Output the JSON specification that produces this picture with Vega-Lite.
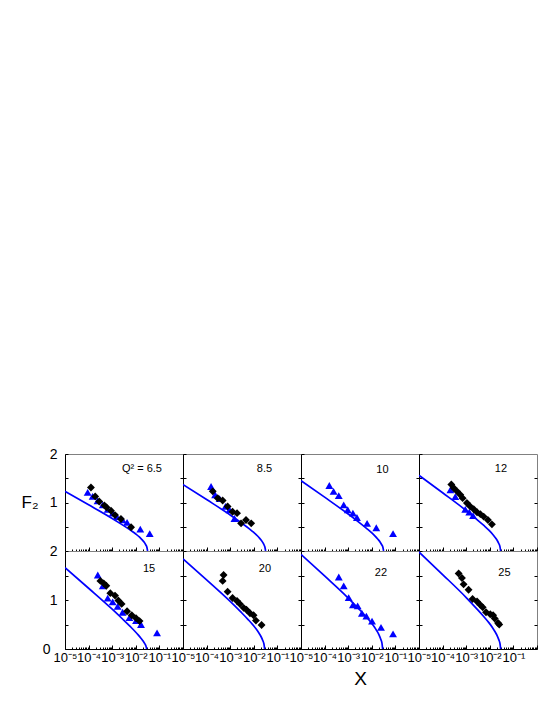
{
  "$schema": "https://vega.github.io/schema/vega-lite/v6.json",
  "padding": {"left": 20, "top": 446, "right": 0, "bottom": 10},
  "background": "white",
  "datasets": {
    "curve": [
      {"p":1,"x":0.00001,"F":1.23},{"p":1,"x":0.0001,"F":0.954},{"p":1,"x":0.001,"F":0.671},{"p":1,"x":0.003162,"F":0.518},{"p":1,"x":0.00631,"F":0.42},{"p":1,"x":0.01,"F":0.35},{"p":1,"x":0.01413,"F":0.289},{"p":1,"x":0.01778,"F":0.24},{"p":1,"x":0.02239,"F":0.184},{"p":1,"x":0.0263,"F":0.129},{"p":1,"x":0.02951,"F":0.076},{"p":1,"x":0.03162,"F":0},
      {"p":2,"x":0.00001,"F":1.37},{"p":2,"x":0.0001,"F":1.06},{"p":2,"x":0.001,"F":0.743},{"p":2,"x":0.003162,"F":0.571},{"p":2,"x":0.00631,"F":0.462},{"p":2,"x":0.01,"F":0.383},{"p":2,"x":0.01413,"F":0.315},{"p":2,"x":0.01778,"F":0.261},{"p":2,"x":0.02239,"F":0.199},{"p":2,"x":0.0263,"F":0.14},{"p":2,"x":0.02951,"F":0.082},{"p":2,"x":0.03162,"F":0},
      {"p":3,"x":0.00001,"F":1.45},{"p":3,"x":0.0001,"F":1.11},{"p":3,"x":0.001,"F":0.762},{"p":3,"x":0.003162,"F":0.576},{"p":3,"x":0.00631,"F":0.458},{"p":3,"x":0.01,"F":0.374},{"p":3,"x":0.01413,"F":0.303},{"p":3,"x":0.01778,"F":0.248},{"p":3,"x":0.02239,"F":0.187},{"p":3,"x":0.0263,"F":0.129},{"p":3,"x":0.02951,"F":0.076},{"p":3,"x":0.03162,"F":0},
      {"p":4,"x":0.00001,"F":1.56},{"p":4,"x":0.0001,"F":1.2},{"p":4,"x":0.001,"F":0.832},{"p":4,"x":0.002884,"F":0.647},{"p":4,"x":0.005754,"F":0.521},{"p":4,"x":0.00912,"F":0.43},{"p":4,"x":0.01288,"F":0.352},{"p":4,"x":0.01622,"F":0.291},{"p":4,"x":0.02042,"F":0.221},{"p":4,"x":0.02399,"F":0.154},{"p":4,"x":0.02692,"F":0.091},{"p":4,"x":0.02884,"F":0},
      {"p":5,"x":0.00001,"F":1.66},{"p":5,"x":0.0001,"F":1.24},{"p":5,"x":0.001,"F":0.812},{"p":5,"x":0.002884,"F":0.602},{"p":5,"x":0.005754,"F":0.461},{"p":5,"x":0.00912,"F":0.363},{"p":5,"x":0.01288,"F":0.283},{"p":5,"x":0.01622,"F":0.225},{"p":5,"x":0.02042,"F":0.162},{"p":5,"x":0.02399,"F":0.108},{"p":5,"x":0.02692,"F":0.061},{"p":5,"x":0.02884,"F":0},
      {"p":6,"x":0.00001,"F":1.84},{"p":6,"x":0.0001,"F":1.41},{"p":6,"x":0.001,"F":0.97},{"p":6,"x":0.002884,"F":0.751},{"p":6,"x":0.005754,"F":0.601},{"p":6,"x":0.00912,"F":0.493},{"p":6,"x":0.01288,"F":0.402},{"p":6,"x":0.01622,"F":0.331},{"p":6,"x":0.02042,"F":0.25},{"p":6,"x":0.02399,"F":0.174},{"p":6,"x":0.02692,"F":0.102},{"p":6,"x":0.02884,"F":0},
      {"p":7,"x":0.00001,"F":1.93},{"p":7,"x":0.0001,"F":1.49},{"p":7,"x":0.001,"F":1.04},{"p":7,"x":0.002884,"F":0.814},{"p":7,"x":0.005754,"F":0.659},{"p":7,"x":0.00912,"F":0.546},{"p":7,"x":0.01288,"F":0.45},{"p":7,"x":0.01622,"F":0.373},{"p":7,"x":0.02042,"F":0.284},{"p":7,"x":0.02399,"F":0.199},{"p":7,"x":0.02692,"F":0.118},{"p":7,"x":0.02884,"F":0},
      {"p":8,"x":0.00001,"F":1.98},{"p":8,"x":0.0001,"F":1.52},{"p":8,"x":0.001,"F":1.05},{"p":8,"x":0.002884,"F":0.814},{"p":8,"x":0.005754,"F":0.653},{"p":8,"x":0.00912,"F":0.538},{"p":8,"x":0.01288,"F":0.439},{"p":8,"x":0.01622,"F":0.362},{"p":8,"x":0.02042,"F":0.274},{"p":8,"x":0.02399,"F":0.191},{"p":8,"x":0.02692,"F":0.113},{"p":8,"x":0.02884,"F":0}
    ],
    "pts": [
      {"p":1,"s":"tri","x":0.0000912,"F":1.21},{"p":1,"s":"tri","x":0.0001479,"F":1.125},{"p":1,"s":"tri","x":0.0002399,"F":1.035},{"p":1,"s":"tri","x":0.0003981,"F":0.95},{"p":1,"s":"tri","x":0.0006457,"F":0.86},{"p":1,"s":"tri","x":0.001047,"F":0.78},{"p":1,"s":"tri","x":0.001585,"F":0.71},{"p":1,"s":"tri","x":0.002754,"F":0.64},{"p":1,"s":"tri","x":0.004266,"F":0.59},{"p":1,"s":"tri","x":0.01549,"F":0.45},{"p":1,"s":"tri","x":0.0389,"F":0.36},
      {"p":1,"s":"dia","x":0.0001259,"F":1.31},{"p":1,"s":"dia","x":0.0001905,"F":1.125},{"p":1,"s":"dia","x":0.0002818,"F":1.02},{"p":1,"s":"dia","x":0.0004677,"F":0.94},{"p":1,"s":"dia","x":0.0005754,"F":0.9},{"p":1,"s":"dia","x":0.0008913,"F":0.83},{"p":1,"s":"dia","x":0.001318,"F":0.74},{"p":1,"s":"dia","x":0.002344,"F":0.66},{"p":1,"s":"dia","x":0.00631,"F":0.49},
      {"p":2,"s":"tri","x":0.0001549,"F":1.33},{"p":2,"s":"tri","x":0.0002291,"F":1.16},{"p":2,"s":"tri","x":0.0003548,"F":1.08},{"p":2,"s":"tri","x":0.000631,"F":0.92},{"p":2,"s":"tri","x":0.0009333,"F":0.85},{"p":2,"s":"tri","x":0.001514,"F":0.67},
      {"p":2,"s":"dia","x":0.000182,"F":1.23},{"p":2,"s":"dia","x":0.0002951,"F":1.09},{"p":2,"s":"dia","x":0.0004786,"F":1.04},{"p":2,"s":"dia","x":0.0007762,"F":0.92},{"p":2,"s":"dia","x":0.001259,"F":0.81},{"p":2,"s":"dia","x":0.00195,"F":0.78},{"p":2,"s":"dia","x":0.002884,"F":0.57},{"p":2,"s":"dia","x":0.004677,"F":0.64},{"p":2,"s":"dia","x":0.007762,"F":0.57},
      {"p":3,"s":"tri","x":0.0001585,"F":1.35},{"p":3,"s":"tri","x":0.0002399,"F":1.23},{"p":3,"s":"tri","x":0.0003981,"F":1.14},{"p":3,"s":"tri","x":0.0006457,"F":0.95},{"p":3,"s":"tri","x":0.000955,"F":0.85},{"p":3,"s":"tri","x":0.001585,"F":0.78},{"p":3,"s":"tri","x":0.002344,"F":0.69},{"p":3,"s":"tri","x":0.00631,"F":0.57},{"p":3,"s":"tri","x":0.01549,"F":0.48},{"p":3,"s":"tri","x":0.07943,"F":0.36},
      {"p":4,"s":"tri","x":0.0002138,"F":1.26},{"p":4,"s":"tri","x":0.0003467,"F":1.12},{"p":4,"s":"tri","x":0.000912,"F":0.86},{"p":4,"s":"tri","x":0.001349,"F":0.8},{"p":4,"s":"tri","x":0.00195,"F":0.73},
      {"p":4,"s":"dia","x":0.0002344,"F":1.37},{"p":4,"s":"dia","x":0.0002951,"F":1.3},{"p":4,"s":"dia","x":0.0004074,"F":1.23},{"p":4,"s":"dia","x":0.0005623,"F":1.16},{"p":4,"s":"dia","x":0.0007079,"F":1.09},{"p":4,"s":"dia","x":0.001072,"F":0.99},{"p":4,"s":"dia","x":0.001479,"F":0.92},{"p":4,"s":"dia","x":0.002089,"F":0.86},{"p":4,"s":"dia","x":0.002884,"F":0.8},{"p":4,"s":"dia","x":0.003981,"F":0.76},{"p":4,"s":"dia","x":0.005495,"F":0.71},{"p":4,"s":"dia","x":0.008318,"F":0.64},{"p":4,"s":"dia","x":0.0123,"F":0.55},
      {"p":5,"s":"tri","x":0.0002455,"F":1.51},{"p":5,"s":"tri","x":0.0003981,"F":1.29},{"p":5,"s":"tri","x":0.0006457,"F":1.04},{"p":5,"s":"tri","x":0.001047,"F":0.96},{"p":5,"s":"tri","x":0.001698,"F":0.87},{"p":5,"s":"tri","x":0.002754,"F":0.75},{"p":5,"s":"tri","x":0.00537,"F":0.64},{"p":5,"s":"tri","x":0.01023,"F":0.58},{"p":5,"s":"tri","x":0.0166,"F":0.5},{"p":5,"s":"tri","x":0.07943,"F":0.33},
      {"p":5,"s":"dia","x":0.0003162,"F":1.39},{"p":5,"s":"dia","x":0.0004365,"F":1.34},{"p":5,"s":"dia","x":0.0005623,"F":1.29},{"p":5,"s":"dia","x":0.0008318,"F":1.14},{"p":5,"s":"dia","x":0.001318,"F":1.09},{"p":5,"s":"dia","x":0.00182,"F":0.99},{"p":5,"s":"dia","x":0.002512,"F":0.92},{"p":5,"s":"dia","x":0.004266,"F":0.77},{"p":5,"s":"dia","x":0.006761,"F":0.69},{"p":5,"s":"dia","x":0.01023,"F":0.63},{"p":5,"s":"dia","x":0.01445,"F":0.57},
      {"p":6,"s":"dia","x":0.0005248,"F":1.51},{"p":6,"s":"dia","x":0.0004786,"F":1.39},{"p":6,"s":"dia","x":0.0007762,"F":1.17},{"p":6,"s":"dia","x":0.001259,"F":1.04},{"p":6,"s":"dia","x":0.00195,"F":0.98},{"p":6,"s":"dia","x":0.00257,"F":0.92},{"p":6,"s":"dia","x":0.003715,"F":0.84},{"p":6,"s":"dia","x":0.004898,"F":0.8},{"p":6,"s":"dia","x":0.006918,"F":0.73},{"p":6,"s":"dia","x":0.009772,"F":0.69},{"p":6,"s":"dia","x":0.0123,"F":0.58},{"p":6,"s":"dia","x":0.02138,"F":0.49},
      {"p":7,"s":"tri","x":0.0003981,"F":1.47},{"p":7,"s":"tri","x":0.0006457,"F":1.29},{"p":7,"s":"tri","x":0.001047,"F":1.05},{"p":7,"s":"tri","x":0.001585,"F":0.9},{"p":7,"s":"tri","x":0.002512,"F":0.88},{"p":7,"s":"tri","x":0.003802,"F":0.73},{"p":7,"s":"tri","x":0.005888,"F":0.67},{"p":7,"s":"tri","x":0.01023,"F":0.57},{"p":7,"s":"tri","x":0.02455,"F":0.44},{"p":7,"s":"tri","x":0.07943,"F":0.31},
      {"p":8,"s":"dia","x":0.0004786,"F":1.54},{"p":8,"s":"dia","x":0.0006607,"F":1.45},{"p":8,"s":"dia","x":0.0007762,"F":1.32},{"p":8,"s":"dia","x":0.001259,"F":1.21},{"p":8,"s":"dia","x":0.001862,"F":1.02},{"p":8,"s":"dia","x":0.002884,"F":0.97},{"p":8,"s":"dia","x":0.003981,"F":0.9},{"p":8,"s":"dia","x":0.005012,"F":0.85},{"p":8,"s":"dia","x":0.006918,"F":0.75},{"p":8,"s":"dia","x":0.01047,"F":0.71},{"p":8,"s":"dia","x":0.0138,"F":0.69},{"p":8,"s":"dia","x":0.01622,"F":0.62},{"p":8,"s":"dia","x":0.02239,"F":0.53},{"p":8,"s":"dia","x":0.02512,"F":0.5}
    ],
    "lab": [
      {"p":1,"x":0.0182,"F":1.69,"t":"Q² = 6.5"},
      {"p":2,"x":0.0282,"F":1.69,"t":"8.5"},
      {"p":3,"x":0.0282,"F":1.67,"t":"10"},
      {"p":4,"x":0.0295,"F":1.69,"t":"12"},
      {"p":5,"x":0.0363,"F":1.63,"t":"15"},
      {"p":6,"x":0.0295,"F":1.63,"t":"20"},
      {"p":7,"x":0.0245,"F":1.55,"t":"22"},
      {"p":8,"x":0.0417,"F":1.55,"t":"25"}
    ]
  },
  "columns": 4,
  "spacing": 0,
  "bounds": "flush",
  "concat": [
    {"width":118,"height":97,"resolve":{"axis":{"x":"independent","y":"independent"}},"layer":[
      {"data":{"name":"curve"},"transform":[{"filter":"datum.p==1"}],"mark":{"type":"line","color":"#0000ff","strokeWidth":1.7,"interpolate":"monotone","clip":true},
       "encoding":{"x":{"field":"x","type":"quantitative","scale":{"type":"log","domain":[0.00001,1],"nice":false},"axis":null},
                   "y":{"field":"F","type":"quantitative","scale":{"domain":[0,2],"nice":false,"zero":false},"axis":{"orient":"right","values":[0.5,1,1.5],"labels":false,"tickSize":-3,"domain":false,"title":null}}}},
      {"data":{"name":"pts"},"transform":[{"filter":"datum.p==1"}],"mark":{"type":"point","filled":true,"opacity":1,"size":62},
       "encoding":{"x":{"field":"x","type":"quantitative","scale":{"type":"log","domain":[0.00001,1],"nice":false},"axis":{"values":[0.00001,0.00002,0.00003,0.00004,0.00005,0.00006,0.00007,0.00008,0.00009,0.0001,0.0002,0.0003,0.0004,0.0005,0.0006,0.0007,0.0008,0.0009,0.001,0.002,0.003,0.004,0.005,0.006,0.007,0.008,0.009,0.01,0.02,0.03,0.04,0.05,0.06,0.07,0.08,0.09,0.1,0.2,0.3,0.4,0.5,0.6,0.7,0.8,0.9,1],"labels":false,"title":null,"tickSize":{"condition":{"test":"datum.value==0.00001||datum.value==0.0001||datum.value==0.001||datum.value==0.01||datum.value==0.1||datum.value==1","value":-4},"value":-2}}},
                   "y":{"field":"F","type":"quantitative","scale":{"domain":[0,2],"nice":false,"zero":false},"axis":{"values":[0,0.5,1,1.5,2],"tickSize":-3,"labelPadding":11,"labelFontSize":14,"labelExpr":"datum.value==1?'1':datum.value==2?'2':''","title":"F₂","titleAngle":0,"titleAlign":"left","titleBaseline":"middle","titleX":-44,"titleY":48,"titleFontSize":17,"titleFontWeight":"normal"}},
                   "shape":{"field":"s","type":"nominal","scale":{"domain":["tri","dia"],"range":["triangle-up","diamond"]},"legend":null},
                   "color":{"field":"s","type":"nominal","scale":{"domain":["tri","dia"],"range":["#0000ff","#000000"]},"legend":null}}},
      {"data":{"name":"lab"},"transform":[{"filter":"datum.p==1"}],"mark":{"type":"text","fontSize":11,"color":"#000"},
       "encoding":{"x":{"field":"x","type":"quantitative","scale":{"type":"log","domain":[0.00001,1],"nice":false},"axis":null},"y":{"field":"F","type":"quantitative","scale":{"domain":[0,2],"nice":false,"zero":false},"axis":null},"text":{"field":"t"}}}
    ]},
    {"width":118,"height":97,"resolve":{"axis":{"x":"independent","y":"independent"}},"layer":[
      {"data":{"name":"curve"},"transform":[{"filter":"datum.p==2"}],"mark":{"type":"line","color":"#0000ff","strokeWidth":1.7,"interpolate":"monotone","clip":true},
       "encoding":{"x":{"field":"x","type":"quantitative","scale":{"type":"log","domain":[0.00001,1],"nice":false},"axis":null},
                   "y":{"field":"F","type":"quantitative","scale":{"domain":[0,2],"nice":false,"zero":false},"axis":{"orient":"right","values":[0.5,1,1.5],"labels":false,"tickSize":-3,"domain":false,"title":null}}}},
      {"data":{"name":"pts"},"transform":[{"filter":"datum.p==2"}],"mark":{"type":"point","filled":true,"opacity":1,"size":62},
       "encoding":{"x":{"field":"x","type":"quantitative","scale":{"type":"log","domain":[0.00001,1],"nice":false},"axis":{"values":[0.00001,0.00002,0.00003,0.00004,0.00005,0.00006,0.00007,0.00008,0.00009,0.0001,0.0002,0.0003,0.0004,0.0005,0.0006,0.0007,0.0008,0.0009,0.001,0.002,0.003,0.004,0.005,0.006,0.007,0.008,0.009,0.01,0.02,0.03,0.04,0.05,0.06,0.07,0.08,0.09,0.1,0.2,0.3,0.4,0.5,0.6,0.7,0.8,0.9,1],"labels":false,"title":null,"tickSize":{"condition":{"test":"datum.value==0.00001||datum.value==0.0001||datum.value==0.001||datum.value==0.01||datum.value==0.1||datum.value==1","value":-4},"value":-2}}},
                   "y":{"field":"F","type":"quantitative","scale":{"domain":[0,2],"nice":false,"zero":false},"axis":{"values":[0,0.5,1,1.5,2],"tickSize":-3,"labels":false,"title":null}},
                   "shape":{"field":"s","type":"nominal","scale":{"domain":["tri","dia"],"range":["triangle-up","diamond"]},"legend":null},
                   "color":{"field":"s","type":"nominal","scale":{"domain":["tri","dia"],"range":["#0000ff","#000000"]},"legend":null}}},
      {"data":{"name":"lab"},"transform":[{"filter":"datum.p==2"}],"mark":{"type":"text","fontSize":11,"color":"#000"},
       "encoding":{"x":{"field":"x","type":"quantitative","scale":{"type":"log","domain":[0.00001,1],"nice":false},"axis":null},"y":{"field":"F","type":"quantitative","scale":{"domain":[0,2],"nice":false,"zero":false},"axis":null},"text":{"field":"t"}}}
    ]},
    {"width":118,"height":97,"resolve":{"axis":{"x":"independent","y":"independent"}},"layer":[
      {"data":{"name":"curve"},"transform":[{"filter":"datum.p==3"}],"mark":{"type":"line","color":"#0000ff","strokeWidth":1.7,"interpolate":"monotone","clip":true},
       "encoding":{"x":{"field":"x","type":"quantitative","scale":{"type":"log","domain":[0.00001,1],"nice":false},"axis":null},
                   "y":{"field":"F","type":"quantitative","scale":{"domain":[0,2],"nice":false,"zero":false},"axis":{"orient":"right","values":[0.5,1,1.5],"labels":false,"tickSize":-3,"domain":false,"title":null}}}},
      {"data":{"name":"pts"},"transform":[{"filter":"datum.p==3"}],"mark":{"type":"point","filled":true,"opacity":1,"size":62},
       "encoding":{"x":{"field":"x","type":"quantitative","scale":{"type":"log","domain":[0.00001,1],"nice":false},"axis":{"values":[0.00001,0.00002,0.00003,0.00004,0.00005,0.00006,0.00007,0.00008,0.00009,0.0001,0.0002,0.0003,0.0004,0.0005,0.0006,0.0007,0.0008,0.0009,0.001,0.002,0.003,0.004,0.005,0.006,0.007,0.008,0.009,0.01,0.02,0.03,0.04,0.05,0.06,0.07,0.08,0.09,0.1,0.2,0.3,0.4,0.5,0.6,0.7,0.8,0.9,1],"labels":false,"title":null,"tickSize":{"condition":{"test":"datum.value==0.00001||datum.value==0.0001||datum.value==0.001||datum.value==0.01||datum.value==0.1||datum.value==1","value":-4},"value":-2}}},
                   "y":{"field":"F","type":"quantitative","scale":{"domain":[0,2],"nice":false,"zero":false},"axis":{"values":[0,0.5,1,1.5,2],"tickSize":-3,"labels":false,"title":null}},
                   "shape":{"field":"s","type":"nominal","scale":{"domain":["tri","dia"],"range":["triangle-up","diamond"]},"legend":null},
                   "color":{"field":"s","type":"nominal","scale":{"domain":["tri","dia"],"range":["#0000ff","#000000"]},"legend":null}}},
      {"data":{"name":"lab"},"transform":[{"filter":"datum.p==3"}],"mark":{"type":"text","fontSize":11,"color":"#000"},
       "encoding":{"x":{"field":"x","type":"quantitative","scale":{"type":"log","domain":[0.00001,1],"nice":false},"axis":null},"y":{"field":"F","type":"quantitative","scale":{"domain":[0,2],"nice":false,"zero":false},"axis":null},"text":{"field":"t"}}}
    ]},
    {"width":118,"height":97,"resolve":{"axis":{"x":"independent","y":"independent"}},"layer":[
      {"data":{"name":"curve"},"transform":[{"filter":"datum.p==4"}],"mark":{"type":"line","color":"#0000ff","strokeWidth":1.7,"interpolate":"monotone","clip":true},
       "encoding":{"x":{"field":"x","type":"quantitative","scale":{"type":"log","domain":[0.00001,1],"nice":false},"axis":null},
                   "y":{"field":"F","type":"quantitative","scale":{"domain":[0,2],"nice":false,"zero":false},"axis":{"orient":"right","values":[0.5,1,1.5],"labels":false,"tickSize":-3,"domain":false,"title":null}}}},
      {"data":{"name":"pts"},"transform":[{"filter":"datum.p==4"}],"mark":{"type":"point","filled":true,"opacity":1,"size":62},
       "encoding":{"x":{"field":"x","type":"quantitative","scale":{"type":"log","domain":[0.00001,1],"nice":false},"axis":{"values":[0.00001,0.00002,0.00003,0.00004,0.00005,0.00006,0.00007,0.00008,0.00009,0.0001,0.0002,0.0003,0.0004,0.0005,0.0006,0.0007,0.0008,0.0009,0.001,0.002,0.003,0.004,0.005,0.006,0.007,0.008,0.009,0.01,0.02,0.03,0.04,0.05,0.06,0.07,0.08,0.09,0.1,0.2,0.3,0.4,0.5,0.6,0.7,0.8,0.9,1],"labels":false,"title":null,"tickSize":{"condition":{"test":"datum.value==0.00001||datum.value==0.0001||datum.value==0.001||datum.value==0.01||datum.value==0.1||datum.value==1","value":-4},"value":-2}}},
                   "y":{"field":"F","type":"quantitative","scale":{"domain":[0,2],"nice":false,"zero":false},"axis":{"values":[0,0.5,1,1.5,2],"tickSize":-3,"labels":false,"title":null}},
                   "shape":{"field":"s","type":"nominal","scale":{"domain":["tri","dia"],"range":["triangle-up","diamond"]},"legend":null},
                   "color":{"field":"s","type":"nominal","scale":{"domain":["tri","dia"],"range":["#0000ff","#000000"]},"legend":null}}},
      {"data":{"name":"lab"},"transform":[{"filter":"datum.p==4"}],"mark":{"type":"text","fontSize":11,"color":"#000"},
       "encoding":{"x":{"field":"x","type":"quantitative","scale":{"type":"log","domain":[0.00001,1],"nice":false},"axis":null},"y":{"field":"F","type":"quantitative","scale":{"domain":[0,2],"nice":false,"zero":false},"axis":null},"text":{"field":"t"}}}
    ]},
    {"width":118,"height":98,"resolve":{"axis":{"x":"independent","y":"independent"}},"layer":[
      {"data":{"name":"curve"},"transform":[{"filter":"datum.p==5"}],"mark":{"type":"line","color":"#0000ff","strokeWidth":1.7,"interpolate":"monotone","clip":true},
       "encoding":{"x":{"field":"x","type":"quantitative","scale":{"type":"log","domain":[0.00001,1],"nice":false},"axis":null},
                   "y":{"field":"F","type":"quantitative","scale":{"domain":[0,2],"nice":false,"zero":false},"axis":{"orient":"right","values":[0.5,1,1.5],"labels":false,"tickSize":-3,"domain":false,"title":null}}}},
      {"data":{"name":"pts"},"transform":[{"filter":"datum.p==5"}],"mark":{"type":"point","filled":true,"opacity":1,"size":62},
       "encoding":{"x":{"field":"x","type":"quantitative","scale":{"type":"log","domain":[0.00001,1],"nice":false},"axis":{"values":[0.00001,0.00002,0.00003,0.00004,0.00005,0.00006,0.00007,0.00008,0.00009,0.0001,0.0002,0.0003,0.0004,0.0005,0.0006,0.0007,0.0008,0.0009,0.001,0.002,0.003,0.004,0.005,0.006,0.007,0.008,0.009,0.01,0.02,0.03,0.04,0.05,0.06,0.07,0.08,0.09,0.1,0.2,0.3,0.4,0.5,0.6,0.7,0.8,0.9,1],"title":null,"labelFontSize":13,"labelPadding":6,"labelFlush":false,"labelOverlap":false,"labelBound":false,"labelExpr":"datum.value==0.00001?'10⁻⁵':datum.value==0.0001?'10⁻⁴':datum.value==0.001?'10⁻³':datum.value==0.01?'10⁻²':datum.value==0.1?'10⁻¹':''","tickSize":{"condition":{"test":"datum.value==0.00001||datum.value==0.0001||datum.value==0.001||datum.value==0.01||datum.value==0.1||datum.value==1","value":-4},"value":-2}}},
                   "y":{"field":"F","type":"quantitative","scale":{"domain":[0,2],"nice":false,"zero":false},"axis":{"values":[0,0.5,1,1.5,2],"tickSize":-3,"labelPadding":{"condition":{"test":"datum.value==0","value":18},"value":11},"labelFontSize":14,"labelExpr":"datum.value==0?'0':datum.value==1?'1':datum.value==2?'2':''","title":null}},
                   "shape":{"field":"s","type":"nominal","scale":{"domain":["tri","dia"],"range":["triangle-up","diamond"]},"legend":null},
                   "color":{"field":"s","type":"nominal","scale":{"domain":["tri","dia"],"range":["#0000ff","#000000"]},"legend":null}}},
      {"data":{"name":"lab"},"transform":[{"filter":"datum.p==5"}],"mark":{"type":"text","fontSize":11,"color":"#000"},
       "encoding":{"x":{"field":"x","type":"quantitative","scale":{"type":"log","domain":[0.00001,1],"nice":false},"axis":null},"y":{"field":"F","type":"quantitative","scale":{"domain":[0,2],"nice":false,"zero":false},"axis":null},"text":{"field":"t"}}}
    ]},
    {"width":118,"height":98,"resolve":{"axis":{"x":"independent","y":"independent"}},"layer":[
      {"data":{"name":"curve"},"transform":[{"filter":"datum.p==6"}],"mark":{"type":"line","color":"#0000ff","strokeWidth":1.7,"interpolate":"monotone","clip":true},
       "encoding":{"x":{"field":"x","type":"quantitative","scale":{"type":"log","domain":[0.00001,1],"nice":false},"axis":null},
                   "y":{"field":"F","type":"quantitative","scale":{"domain":[0,2],"nice":false,"zero":false},"axis":{"orient":"right","values":[0.5,1,1.5],"labels":false,"tickSize":-3,"domain":false,"title":null}}}},
      {"data":{"name":"pts"},"transform":[{"filter":"datum.p==6"}],"mark":{"type":"point","filled":true,"opacity":1,"size":62},
       "encoding":{"x":{"field":"x","type":"quantitative","scale":{"type":"log","domain":[0.00001,1],"nice":false},"axis":{"values":[0.00001,0.00002,0.00003,0.00004,0.00005,0.00006,0.00007,0.00008,0.00009,0.0001,0.0002,0.0003,0.0004,0.0005,0.0006,0.0007,0.0008,0.0009,0.001,0.002,0.003,0.004,0.005,0.006,0.007,0.008,0.009,0.01,0.02,0.03,0.04,0.05,0.06,0.07,0.08,0.09,0.1,0.2,0.3,0.4,0.5,0.6,0.7,0.8,0.9,1],"title":null,"labelFontSize":13,"labelPadding":6,"labelFlush":false,"labelOverlap":false,"labelBound":false,"labelExpr":"datum.value==0.00001?'10⁻⁵':datum.value==0.0001?'10⁻⁴':datum.value==0.001?'10⁻³':datum.value==0.01?'10⁻²':datum.value==0.1?'10⁻¹':''","tickSize":{"condition":{"test":"datum.value==0.00001||datum.value==0.0001||datum.value==0.001||datum.value==0.01||datum.value==0.1||datum.value==1","value":-4},"value":-2}}},
                   "y":{"field":"F","type":"quantitative","scale":{"domain":[0,2],"nice":false,"zero":false},"axis":{"values":[0,0.5,1,1.5,2],"tickSize":-3,"labels":false,"title":null}},
                   "shape":{"field":"s","type":"nominal","scale":{"domain":["tri","dia"],"range":["triangle-up","diamond"]},"legend":null},
                   "color":{"field":"s","type":"nominal","scale":{"domain":["tri","dia"],"range":["#0000ff","#000000"]},"legend":null}}},
      {"data":{"name":"lab"},"transform":[{"filter":"datum.p==6"}],"mark":{"type":"text","fontSize":11,"color":"#000"},
       "encoding":{"x":{"field":"x","type":"quantitative","scale":{"type":"log","domain":[0.00001,1],"nice":false},"axis":null},"y":{"field":"F","type":"quantitative","scale":{"domain":[0,2],"nice":false,"zero":false},"axis":null},"text":{"field":"t"}}}
    ]},
    {"width":118,"height":98,"resolve":{"axis":{"x":"independent","y":"independent"}},"layer":[
      {"data":{"name":"curve"},"transform":[{"filter":"datum.p==7"}],"mark":{"type":"line","color":"#0000ff","strokeWidth":1.7,"interpolate":"monotone","clip":true},
       "encoding":{"x":{"field":"x","type":"quantitative","scale":{"type":"log","domain":[0.00001,1],"nice":false},"axis":null},
                   "y":{"field":"F","type":"quantitative","scale":{"domain":[0,2],"nice":false,"zero":false},"axis":{"orient":"right","values":[0.5,1,1.5],"labels":false,"tickSize":-3,"domain":false,"title":null}}}},
      {"data":{"name":"pts"},"transform":[{"filter":"datum.p==7"}],"mark":{"type":"point","filled":true,"opacity":1,"size":62},
       "encoding":{"x":{"field":"x","type":"quantitative","scale":{"type":"log","domain":[0.00001,1],"nice":false},"axis":{"values":[0.00001,0.00002,0.00003,0.00004,0.00005,0.00006,0.00007,0.00008,0.00009,0.0001,0.0002,0.0003,0.0004,0.0005,0.0006,0.0007,0.0008,0.0009,0.001,0.002,0.003,0.004,0.005,0.006,0.007,0.008,0.009,0.01,0.02,0.03,0.04,0.05,0.06,0.07,0.08,0.09,0.1,0.2,0.3,0.4,0.5,0.6,0.7,0.8,0.9,1],"title":"X","titleFontSize":19,"titleFontWeight":"normal","titleX":59,"titleY":29,"titleBaseline":"middle","titleAlign":"center","labelFontSize":13,"labelPadding":6,"labelFlush":false,"labelOverlap":false,"labelBound":false,"labelExpr":"datum.value==0.00001?'10⁻⁵':datum.value==0.0001?'10⁻⁴':datum.value==0.001?'10⁻³':datum.value==0.01?'10⁻²':datum.value==0.1?'10⁻¹':''","tickSize":{"condition":{"test":"datum.value==0.00001||datum.value==0.0001||datum.value==0.001||datum.value==0.01||datum.value==0.1||datum.value==1","value":-4},"value":-2}}},
                   "y":{"field":"F","type":"quantitative","scale":{"domain":[0,2],"nice":false,"zero":false},"axis":{"values":[0,0.5,1,1.5,2],"tickSize":-3,"labels":false,"title":null}},
                   "shape":{"field":"s","type":"nominal","scale":{"domain":["tri","dia"],"range":["triangle-up","diamond"]},"legend":null},
                   "color":{"field":"s","type":"nominal","scale":{"domain":["tri","dia"],"range":["#0000ff","#000000"]},"legend":null}}},
      {"data":{"name":"lab"},"transform":[{"filter":"datum.p==7"}],"mark":{"type":"text","fontSize":11,"color":"#000"},
       "encoding":{"x":{"field":"x","type":"quantitative","scale":{"type":"log","domain":[0.00001,1],"nice":false},"axis":null},"y":{"field":"F","type":"quantitative","scale":{"domain":[0,2],"nice":false,"zero":false},"axis":null},"text":{"field":"t"}}}
    ]},
    {"width":118,"height":98,"resolve":{"axis":{"x":"independent","y":"independent"}},"layer":[
      {"data":{"name":"curve"},"transform":[{"filter":"datum.p==8"}],"mark":{"type":"line","color":"#0000ff","strokeWidth":1.7,"interpolate":"monotone","clip":true},
       "encoding":{"x":{"field":"x","type":"quantitative","scale":{"type":"log","domain":[0.00001,1],"nice":false},"axis":null},
                   "y":{"field":"F","type":"quantitative","scale":{"domain":[0,2],"nice":false,"zero":false},"axis":{"orient":"right","values":[0.5,1,1.5],"labels":false,"tickSize":-3,"domain":false,"title":null}}}},
      {"data":{"name":"pts"},"transform":[{"filter":"datum.p==8"}],"mark":{"type":"point","filled":true,"opacity":1,"size":62},
       "encoding":{"x":{"field":"x","type":"quantitative","scale":{"type":"log","domain":[0.00001,1],"nice":false},"axis":{"values":[0.00001,0.00002,0.00003,0.00004,0.00005,0.00006,0.00007,0.00008,0.00009,0.0001,0.0002,0.0003,0.0004,0.0005,0.0006,0.0007,0.0008,0.0009,0.001,0.002,0.003,0.004,0.005,0.006,0.007,0.008,0.009,0.01,0.02,0.03,0.04,0.05,0.06,0.07,0.08,0.09,0.1,0.2,0.3,0.4,0.5,0.6,0.7,0.8,0.9,1],"title":null,"labelFontSize":13,"labelPadding":6,"labelFlush":false,"labelOverlap":false,"labelBound":false,"labelExpr":"datum.value==0.00001?'10⁻⁵':datum.value==0.0001?'10⁻⁴':datum.value==0.001?'10⁻³':datum.value==0.01?'10⁻²':datum.value==0.1?'10⁻¹':''","tickSize":{"condition":{"test":"datum.value==0.00001||datum.value==0.0001||datum.value==0.001||datum.value==0.01||datum.value==0.1||datum.value==1","value":-4},"value":-2}}},
                   "y":{"field":"F","type":"quantitative","scale":{"domain":[0,2],"nice":false,"zero":false},"axis":{"values":[0,0.5,1,1.5,2],"tickSize":-3,"labels":false,"title":null}},
                   "shape":{"field":"s","type":"nominal","scale":{"domain":["tri","dia"],"range":["triangle-up","diamond"]},"legend":null},
                   "color":{"field":"s","type":"nominal","scale":{"domain":["tri","dia"],"range":["#0000ff","#000000"]},"legend":null}}},
      {"data":{"name":"lab"},"transform":[{"filter":"datum.p==8"}],"mark":{"type":"text","fontSize":11,"color":"#000"},
       "encoding":{"x":{"field":"x","type":"quantitative","scale":{"type":"log","domain":[0.00001,1],"nice":false},"axis":null},"y":{"field":"F","type":"quantitative","scale":{"domain":[0,2],"nice":false,"zero":false},"axis":null},"text":{"field":"t"}}}
    ]}
  ],
  "config": {
    "font": "Liberation Sans",
    "view": {"stroke": "#808080", "strokeWidth": 1},
    "axis": {"grid": false, "domainColor": "#000000", "tickColor": "#000000", "labelColor": "#000000", "titleColor": "#000000", "labelFont": "Liberation Sans", "titleFont": "Liberation Sans", "domainWidth": 1, "tickWidth": 1},
    "text": {"font": "Liberation Sans"}
  }
}
